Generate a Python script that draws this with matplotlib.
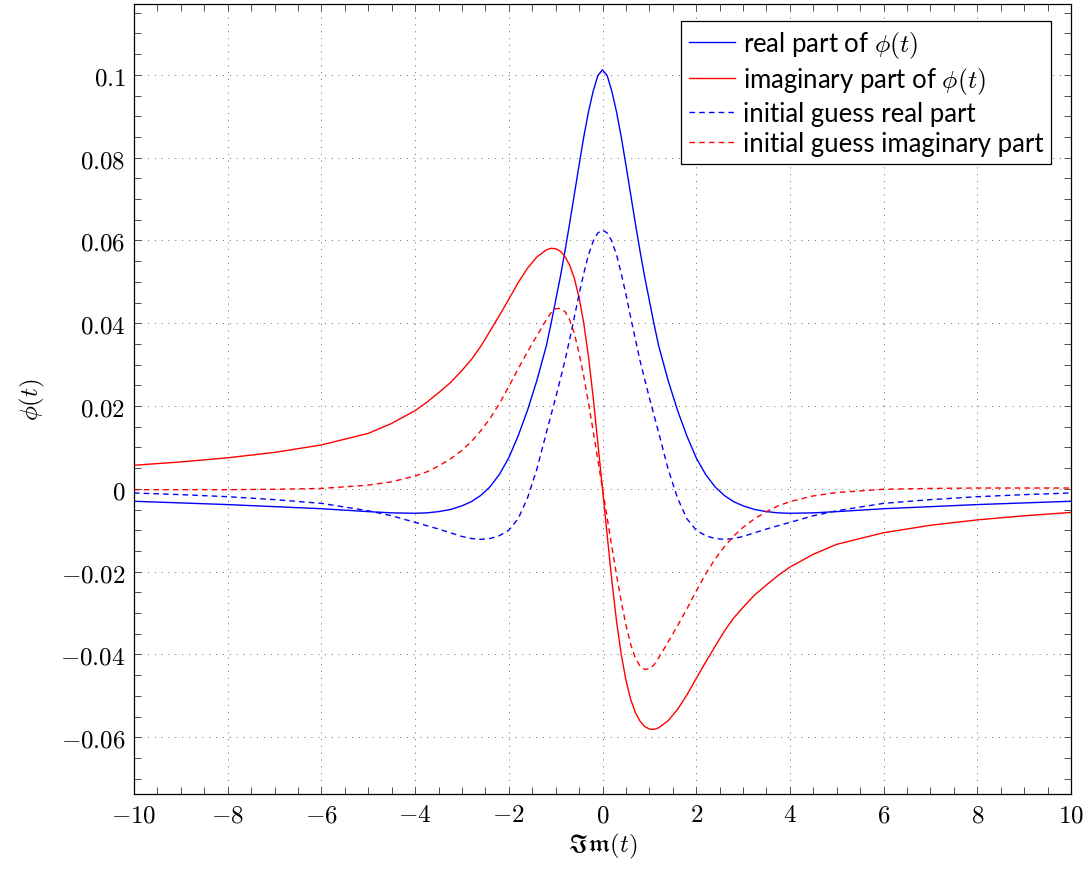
import numpy as np
import matplotlib.pyplot as plt
from matplotlib.ticker import MultipleLocator, FuncFormatter

plt.rcParams['mathtext.fontset'] = 'cm'
plt.rcParams['font.family'] = ['Lato', 'DejaVu Sans']

# sample points in t
t = [-10, -9, -8, -7, -6, -5, -4.5, -4, -3.75, -3.5, -3.25, -3.0, -2.8, -2.6, -2.4, -2.2,
     -2.0, -1.8, -1.6, -1.4, -1.2, -1.1, -1.0, -0.9, -0.8, -0.7, -0.6, -0.5, -0.4, -0.3,
     -0.2, -0.1,
     0,
     0.1, 0.2, 0.3, 0.4, 0.5, 0.6, 0.7, 0.8, 0.9, 1.0, 1.1, 1.2, 1.4, 1.6, 1.8, 2.0,
     2.2, 2.4, 2.6, 2.8, 3.0, 3.25, 3.5, 3.75, 4, 4.5, 5, 6, 7, 8, 9, 10]

# real part of phi(t)
re_phi = [-0.0030, -0.0034, -0.0038, -0.0043, -0.0048, -0.0055, -0.0058, -0.0059, -0.0058,
          -0.0055, -0.0050, -0.0041, -0.0031, -0.0016, 0.0005, 0.0035, 0.0075, 0.0128,
          0.0190, 0.0262, 0.0345, 0.0398, 0.0455, 0.0512, 0.0575, 0.0642, 0.0712, 0.0782,
          0.0850, 0.0910, 0.0960, 0.0998,
          0.1012,
          0.0998, 0.0960, 0.0910, 0.0850, 0.0782, 0.0712, 0.0642, 0.0575, 0.0512, 0.0455,
          0.0398, 0.0345, 0.0262, 0.0190, 0.0128, 0.0075, 0.0035, 0.0005, -0.0016, -0.0031,
          -0.0041, -0.0050, -0.0055, -0.0058, -0.0059, -0.0058, -0.0055, -0.0048, -0.0043,
          -0.0038, -0.0034, -0.0030]

# imaginary part of phi(t)
im_phi = [0.0057, 0.0065, 0.0075, 0.0088, 0.0106, 0.0134, 0.0158, 0.0189, 0.0209, 0.0232,
          0.0256, 0.0286, 0.0312, 0.0344, 0.0381, 0.0419, 0.0458, 0.0498, 0.0533, 0.0560,
          0.0577, 0.0581, 0.0580, 0.0574, 0.0561, 0.0540, 0.0508, 0.0462, 0.0400, 0.0320,
          0.0222, 0.0112,
          0.0,
          -0.0112, -0.0222, -0.0320, -0.0400, -0.0462, -0.0508, -0.0540, -0.0561, -0.0574,
          -0.0580, -0.0581, -0.0577, -0.0560, -0.0533, -0.0498, -0.0458, -0.0419, -0.0381,
          -0.0344, -0.0312, -0.0286, -0.0256, -0.0232, -0.0209, -0.0189, -0.0158, -0.0134,
          -0.0106, -0.0088, -0.0075, -0.0065, -0.0057]

# initial guess, real part
re_guess = [-0.0010, -0.0014, -0.0019, -0.0026, -0.0035, -0.0053, -0.0065, -0.0081, -0.0089,
            -0.0097, -0.0106, -0.0115, -0.0120, -0.0122, -0.0120, -0.0113, -0.0100, -0.0072,
            -0.0022, 0.0048, 0.0135, 0.0178, 0.0220, 0.0265, 0.0310, 0.0362, 0.0415, 0.0470,
            0.0520, 0.0565, 0.0598, 0.0618,
            0.0625,
            0.0618, 0.0598, 0.0565, 0.0520, 0.0470, 0.0415, 0.0362, 0.0310, 0.0265, 0.0220,
            0.0178, 0.0135, 0.0048, -0.0022, -0.0072, -0.0100, -0.0113, -0.0120, -0.0122,
            -0.0120, -0.0115, -0.0106, -0.0097, -0.0089, -0.0081, -0.0065, -0.0053, -0.0035,
            -0.0026, -0.0019, -0.0014, -0.0010]

# initial guess, imaginary part
im_guess = [-0.0002, -0.0002, -0.0002, -0.0001, 0.0001, 0.0009, 0.0017, 0.0031, 0.0041,
            0.0055, 0.0072, 0.0093, 0.0114, 0.0140, 0.0170, 0.0206, 0.0247, 0.0290, 0.0331,
            0.0370, 0.0408, 0.0425, 0.0435, 0.0436, 0.0428, 0.0408, 0.0375, 0.0328, 0.0272,
            0.0208, 0.0140, 0.0070,
            0.0,
            -0.0070, -0.0140, -0.0208, -0.0272, -0.0328, -0.0375, -0.0408, -0.0428, -0.0436,
            -0.0435, -0.0425, -0.0408, -0.0370, -0.0331, -0.0290, -0.0247, -0.0206, -0.0170,
            -0.0140, -0.0114, -0.0093, -0.0072, -0.0055, -0.0041, -0.0031, -0.0017, -0.0009,
            -0.0001, 0.0001, 0.0002, 0.0002, 0.0002]

fig = plt.figure(figsize=(10.91, 8.78), dpi=100)
ax = fig.add_axes([134/1091, 83/878, 937/1091, 790/878])

ax.plot(t, re_phi, color='#0000ff', lw=1.0, label=r'real part of $\phi(t)$')
ax.plot(t, im_phi, color='#ff0000', lw=1.0, label=r'imaginary part of $\phi(t)$')
ax.plot(t, re_guess, color='#0000ff', lw=1.0, ls=(0, (4, 3)), label='initial guess real part')
ax.plot(t, im_guess, color='#ff0000', lw=1.0, ls=(0, (4, 3)), label='initial guess imaginary part')

ax.set_xlim(-10, 10)
ax.set_ylim(-0.0737, 0.1171)

ax.xaxis.set_major_locator(MultipleLocator(2))
ax.xaxis.set_minor_locator(MultipleLocator(0.5))
ax.yaxis.set_major_locator(MultipleLocator(0.02))
ax.yaxis.set_minor_locator(MultipleLocator(0.005))

def fmt(v, pos):
    v = round(v, 6)
    if v == 0:
        return '$0$'
    return '$%g$' % v

ax.xaxis.set_major_formatter(FuncFormatter(fmt))
ax.yaxis.set_major_formatter(FuncFormatter(fmt))

ax.tick_params(which='both', direction='in', top=True, right=True, length=5, width=0.6,
               color='#333333', labelsize=18, pad=6)
for s in ax.spines.values():
    s.set_linewidth(0.9)

ax.grid(True, which='major', color='#666666', lw=0.7, ls=(0, (1, 6)))

ax.set_xlabel(r'$\mathfrak{Im}(t)$', fontsize=18, labelpad=4)
ax.set_ylabel(r'$\phi(t)$', fontsize=18, labelpad=10)

leg = ax.legend(loc='upper right', bbox_to_anchor=(0.9786, 0.9785), borderaxespad=0,
                fontsize=18.5, fancybox=False, framealpha=1, edgecolor='black',
                handlelength=1.8, handletextpad=0.3, labelspacing=0.2, borderpad=0.3)
leg.get_frame().set_linewidth(0.9)

fig.savefig('out.png', dpi=100)
